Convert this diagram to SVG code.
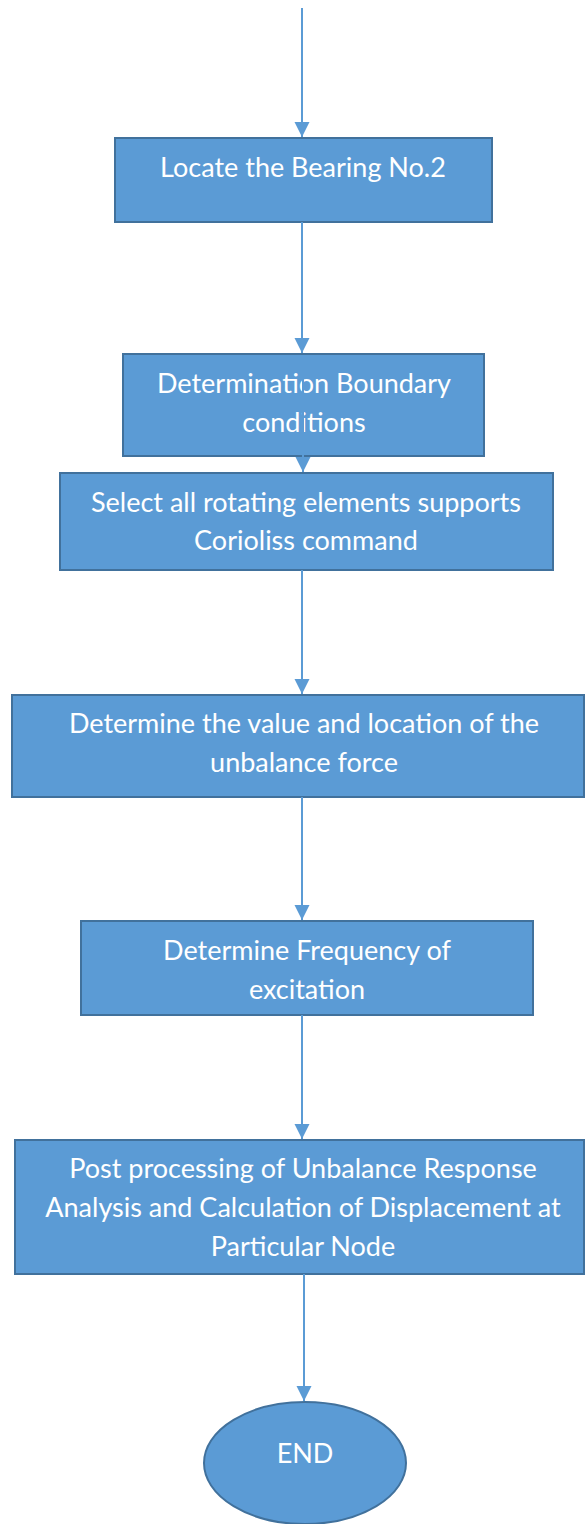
<svg xmlns="http://www.w3.org/2000/svg" width="585" height="1524" viewBox="0 0 585 1524">
  <style>
    .box { fill: #5B9BD5; stroke: #41719C; stroke-width: 2; }
    .lbl { fill: #FFFFFF; font-family: Lato, "Open Sans", sans-serif; font-size: 27px; text-anchor: middle; }
    .conn { stroke: #5B9BD5; stroke-width: 2; fill: none; }
  </style>
  <defs>
    <marker id="arrow" markerUnits="userSpaceOnUse" markerWidth="16" markerHeight="16" refX="15" refY="7.5" orient="auto">
      <path d="M0,0 L15,7.5 L0,15 Z" fill="#5B9BD5"/>
    </marker>
  </defs>

  <g id="n1">
    <rect class="box" x="115" y="138" width="377" height="84"/>
    <text class="lbl" x="303" y="177">Locate the Bearing No.2</text>
  </g>
  <g id="n2">
    <rect class="box" x="123" y="354" width="361" height="102"/>
    <text class="lbl" x="304" y="393">Determination Boundary</text>
    <text class="lbl" x="304" y="432">conditions</text>
  </g>
  <g id="n3">
    <rect class="box" x="60" y="473" width="493" height="97"/>
    <text class="lbl" x="306" y="512">Select all rotating elements supports</text>
    <text class="lbl" x="306" y="550">Corioliss command</text>
  </g>
  <g id="n4">
    <rect class="box" x="12" y="695" width="572" height="102"/>
    <text class="lbl" x="304" y="733">Determine the value and location of the</text>
    <text class="lbl" x="304" y="772">unbalance force</text>
  </g>
  <g id="n5">
    <rect class="box" x="81" y="921" width="452" height="94"/>
    <text class="lbl" x="307" y="960">Determine Frequency of</text>
    <text class="lbl" x="307" y="999">excitation</text>
  </g>
  <g id="n6">
    <rect class="box" x="15" y="1140" width="569" height="134"/>
    <text class="lbl" x="303" y="1178">Post processing of Unbalance Response</text>
    <text class="lbl" x="303" y="1217">Analysis and Calculation of Displacement at</text>
    <text class="lbl" x="303" y="1256">Particular Node</text>
  </g>
  <g id="end">
    <ellipse class="box" cx="305" cy="1463" rx="101" ry="61"/>
    <text class="lbl" x="305" y="1463">END</text>
  </g>

  <g id="connectors">
    <line class="conn" x1="302" y1="8" x2="302" y2="137" marker-end="url(#arrow)"/>
    <line class="conn" x1="302" y1="222" x2="302" y2="353" marker-end="url(#arrow)"/>
    <line class="conn" x1="303" y1="355" x2="303" y2="472" marker-end="url(#arrow)"/>
    <line class="conn" x1="302" y1="570" x2="302" y2="694" marker-end="url(#arrow)"/>
    <line class="conn" x1="302" y1="797" x2="302" y2="920" marker-end="url(#arrow)"/>
    <line class="conn" x1="302" y1="1015" x2="302" y2="1139" marker-end="url(#arrow)"/>
    <line class="conn" x1="304" y1="1274" x2="304" y2="1401" marker-end="url(#arrow)"/>
  </g>
</svg>
